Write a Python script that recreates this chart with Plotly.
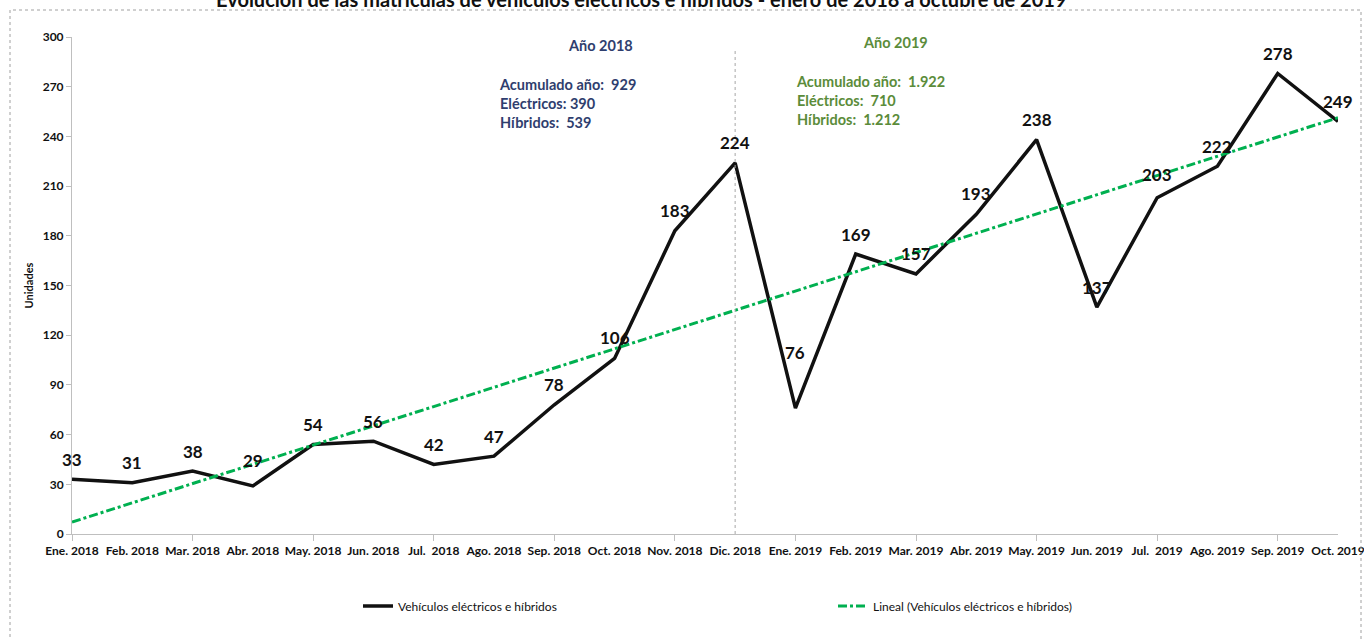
import numpy as np
import plotly.graph_objects as go

categories = ["Ene. 2018", "Feb. 2018", "Mar. 2018", "Abr. 2018", "May. 2018", "Jun. 2018",
              "Jul.  2018", "Ago. 2018", "Sep. 2018", "Oct. 2018", "Nov. 2018", "Dic. 2018",
              "Ene. 2019", "Feb. 2019", "Mar. 2019", "Abr. 2019", "May. 2019", "Jun. 2019",
              "Jul.  2019", "Ago. 2019", "Sep. 2019", "Oct. 2019"]
values = [33, 31, 38, 29, 54, 56, 42, 47, 78, 106, 183, 224,
          76, 169, 157, 193, 238, 137, 203, 222, 278, 249]
label_shift = [20, 20, 20, 25, 20, 20, 20, 20, 20, 21, 20, 20,
               56, 20, 20, 21, 20, 20, 23, 20, 20, 20]
y_ticks = [0, 30, 60, 90, 120, 150, 180, 210, 240, 270, 300]

x = np.arange(len(values))
slope, intercept = np.polyfit(x, values, 1)
trend = slope * x + intercept

FONT = "Lato, Liberation Sans, sans-serif"
NAVY = "#2F3E6E"
GREEN_TXT = "#5B8C3A"

fig = go.Figure()
fig.add_trace(go.Scatter(x=x, y=values, mode="lines", name="Vehículos eléctricos e híbridos",
                         line=dict(color="#111111", width=3.5)))
fig.add_trace(go.Scatter(x=x, y=trend, mode="lines", name="Lineal (Vehículos eléctricos e híbridos)",
                         line=dict(color="#00B050", width=3, dash="dashdot")))

annotations = []
for xi, v, s in zip(x, values, label_shift):
    annotations.append(dict(x=int(xi), y=v, text=f"<b>{v}</b>", showarrow=False, yshift=s,
                            font=dict(size=17, color="#111111", family=FONT)))

annotations += [
    dict(xref="paper", yref="paper", x=(641 - 72) / 1266, y=(534 + 1) / 497, yanchor="middle",
         text="<b>Evolución de las matrículas de vehículos eléctricos e híbridos - enero de 2018 a octubre de 2019</b>",
         showarrow=False, font=dict(size=20, color="#111111", family=FONT)),
    dict(xref="paper", yref="paper", x=(600 - 72) / 1266, y=(534 - 45) / 497, yanchor="middle",
         text="<b>Año 2018</b>", showarrow=False, font=dict(size=14.5, color=NAVY, family=FONT)),
    dict(xref="paper", yref="paper", x=(895 - 72) / 1266, y=(534 - 43) / 497, yanchor="middle",
         text="<b>Año 2019</b>", showarrow=False, font=dict(size=14.5, color=GREEN_TXT, family=FONT)),
    dict(xref="paper", yref="paper", x=(497 - 72) / 1266, y=(534 - 74) / 497, yanchor="top",
         xanchor="left", align="left",
         text="<b>Acumulado año:  929<br>Eléctricos: 390<br>Híbridos:  539</b>",
         showarrow=False, font=dict(size=14.5, color=NAVY, family=FONT)),
    dict(xref="paper", yref="paper", x=(794 - 72) / 1266, y=(534 - 71) / 497, yanchor="top",
         xanchor="left", align="left",
         text="<b>Acumulado año:  1.922<br>Eléctricos:  710<br>Híbridos:  1.212</b>",
         showarrow=False, font=dict(size=14.5, color=GREEN_TXT, family=FONT)),
]

shapes = [
    dict(type="line", xref="x", yref="y", x0=11, x1=11, y0=0, y1=293,
         line=dict(color="#A6A6A6", width=1, dash="dot")),
    dict(type="rect", xref="paper", yref="paper",
         x0=(10 - 72) / 1266, x1=(1361 - 72) / 1266,
         y0=(534 - 650) / 497, y1=(534 - 10) / 497,
         line=dict(color="#A0A0A0", width=1, dash="dot")),
]

fig.update_layout(
    width=1364, height=639,
    margin=dict(l=72, r=26, t=37, b=105, autoexpand=False),
    paper_bgcolor="white", plot_bgcolor="white",
    font=dict(family=FONT, color="#111111"),
    annotations=annotations, shapes=shapes,
    showlegend=True,
    legend=dict(orientation="h", x=(358 - 72) / 1266, y=(534 - 606) / 497, xanchor="left",
                yanchor="middle", font=dict(size=12, family=FONT, color="#111111"),
                bgcolor="rgba(0,0,0,0)", entrywidth=430, entrywidthmode="pixels"),
)
fig.update_xaxes(range=[0, 21], tickmode="array", tickvals=list(x),
                 ticktext=[f"<b>{c}</b>" for c in categories], ticks="",
                 ticklabeloverflow="allow", ticklabelstandoff=6,
                 showline=True, linecolor="#BFBFBF", linewidth=1, showgrid=False, zeroline=False,
                 tickfont=dict(size=12, family=FONT, color="#111111"),
                 minor=dict(tickmode="array", tickvals=list(range(0, 22, 2)), ticks="outside",
                            ticklen=6, tickcolor="#BFBFBF", showgrid=False))
fig.update_yaxes(range=[0, 300], tickmode="array", tickvals=y_ticks,
                 ticktext=[f"<b>{t}</b>" for t in y_ticks],
                 ticks="outside", ticklen=5, tickcolor="#BFBFBF",
                 showline=True, linecolor="#BFBFBF", linewidth=1, showgrid=False, zeroline=False,
                 tickfont=dict(size=12, family=FONT, color="#111111"),
                 title=dict(text="<b>Unidades</b>", font=dict(size=11, family=FONT), standoff=6))

fig.write_html("out.html", config={"displayModeBar": False},
               post_script="document.body.style.margin='0';document.body.style.overflow='hidden';")
